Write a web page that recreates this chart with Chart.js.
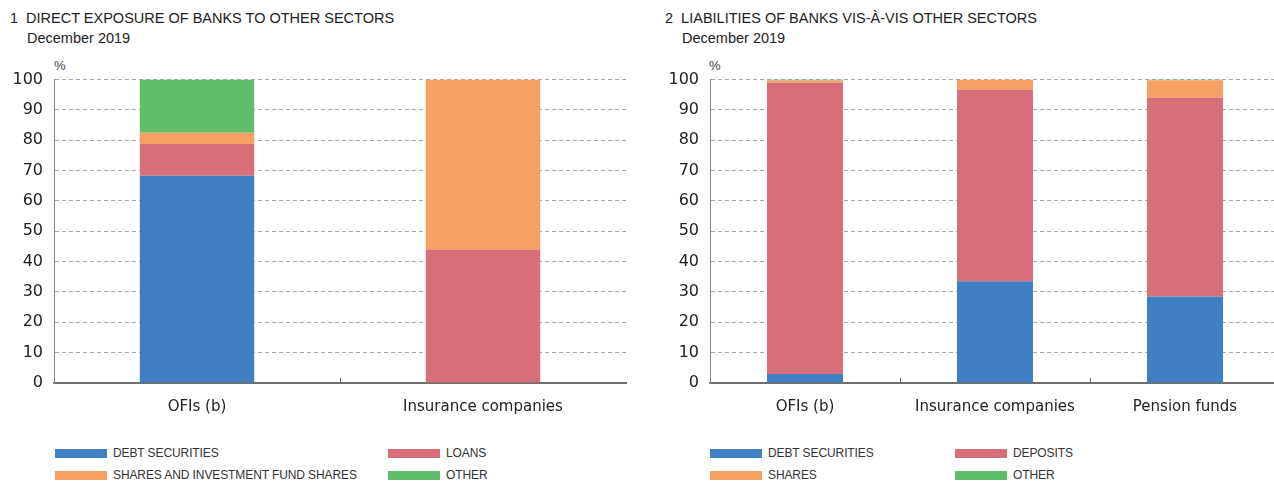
<!DOCTYPE html>
<html>
<head>
<meta charset="utf-8">
<script src="https://cdn.jsdelivr.net/npm/chart.js@4.4.1/dist/chart.umd.min.js"></script>
<style>
  html, body { margin: 0; padding: 0; width: 1274px; height: 483px; overflow: hidden; background: #fff; }
  body { position: relative; font-family: "Liberation Sans", Arial, sans-serif; color: #222; }
  .txt { position: absolute; white-space: nowrap; }
  .title { font-size: 14.5px; }
  .sub { font-size: 14.5px; }
  .pct { font-size: 13px; color: #444; }
  .box { position: absolute; }
  .leg { position: absolute; font-size: 12px; letter-spacing: -0.1px; color: #333; display: flex; align-items: center; white-space: nowrap; }
  .leg span.sw { display: inline-block; width: 52px; height: 9px; margin-right: 6px; }
</style>
</head>
<body>
<div class="txt title" style="left:10px;top:10px;">1&nbsp;&nbsp;DIRECT EXPOSURE OF BANKS TO OTHER SECTORS</div>
<div class="txt sub" style="left:27px;top:30px;">December 2019</div>
<div class="txt pct" style="left:54px;top:58px;">%</div>

<div class="txt title" style="left:665px;top:10px;">2&nbsp;&nbsp;LIABILITIES OF BANKS VIS-À-VIS OTHER SECTORS</div>
<div class="txt sub" style="left:682px;top:30px;">December 2019</div>
<div class="txt pct" style="left:709px;top:58px;">%</div>

<div class="box" style="left:0px;top:59px;width:640px;height:364px;"><canvas id="chartLeft"></canvas></div>
<div class="box" style="left:655px;top:59px;width:625px;height:364px;"><canvas id="chartRight"></canvas></div>

<div id="legendLeft"></div>
<div id="legendRight"></div>

<script>
// Dados
const leftCategories = ['OFIs (b)', 'Insurance companies'];
const leftDebt = [68.3, 0];
const leftLoans = [10.5, 44.0];
const leftShares = [3.7, 56.0];
const leftOther = [17.5, 0];

const rightCategories = ['OFIs (b)', 'Insurance companies', 'Pension funds'];
const rightDebt = [3.0, 33.5, 28.5];
const rightDeposits = [96.0, 63.2, 65.5];
const rightShares = [0.7, 3.3, 5.8];
const rightOther = [0.3, 0, 0.2];

const yTicks = [0, 10, 20, 30, 40, 50, 60, 70, 80, 90, 100];

const BLUE = '#4080c2';
const RED = '#d96e7b';
const ORANGE = '#f7a063';
const GREEN = '#60be6a';

const leftLabels = ['DEBT SECURITIES', 'LOANS', 'SHARES AND INVESTMENT FUND SHARES', 'OTHER'];
const rightLabels = ['DEBT SECURITIES', 'DEPOSITS', 'SHARES', 'OTHER'];
const colors = [BLUE, RED, ORANGE, GREEN];

function makeDatasets(labels, series) {
  return series.map((data, i) => ({
    label: labels[i],
    data: data,
    backgroundColor: colors[i],
    borderWidth: 0,
    categoryPercentage: 1.0,
    barPercentage: 0.4
  }));
}

// marquinhas do eixo x entre categorias, viradas para cima
const innerTicks = {
  id: 'innerTicks',
  afterDatasetsDraw(chart) {
    const x = chart.scales.x;
    const bottom = chart.chartArea.bottom;
    const ctx = chart.ctx;
    ctx.save();
    ctx.strokeStyle = '#6e6e6e';
    ctx.lineWidth = 1;
    for (let i = 1; i < chart.data.labels.length; i++) {
      const px = Math.round((x.getPixelForTick(i - 1) + x.getPixelForTick(i)) / 2) + 0.5;
      ctx.beginPath();
      ctx.moveTo(px, bottom);
      ctx.lineTo(px, bottom - 5);
      ctx.stroke();
    }
    ctx.restore();
  }
};

function makeChart(id, categories, datasets, axisWidth, padRight) {
  const ctx = document.getElementById(id).getContext('2d');
  return new Chart(ctx, {
    type: 'bar',
    data: { labels: categories, datasets: datasets },
    plugins: [innerTicks],
    options: {
      responsive: true,
      maintainAspectRatio: false,
      animation: false,
      layout: { padding: { top: 10, right: padRight, left: 0, bottom: 0 } },
      plugins: { legend: { display: false }, tooltip: { enabled: false } },
      scales: {
        x: {
          stacked: true,
          grid: { display: false },
          border: { color: '#6e6e6e', width: 2 },
          ticks: {
            color: '#222',
            padding: 7,
            font: { family: 'DejaVu Sans', size: 15 }
          }
        },
        y: {
          stacked: true,
          min: 0,
          max: 100,
          afterFit: s => { s.width = axisWidth; },
          afterBuildTicks: s => { s.ticks = yTicks.map(v => ({ value: v })); },
          grid: { color: '#a8a8a8', drawTicks: false, tickLength: 0 },
          border: { color: '#8a8a8a', width: 1, dash: [4, 3] },
          ticks: {
            color: '#222',
            padding: 11,
            font: { family: 'DejaVu Sans', size: 16 }
          }
        }
      }
    }
  });
}

function renderLegend(elId, labels, baseLeft, colLeft) {
  const el = document.getElementById(elId);
  const pos = [
    [baseLeft, 446], [colLeft, 446],
    [baseLeft, 468], [colLeft, 468]
  ];
  labels.forEach((lab, i) => {
    const d = document.createElement('div');
    d.className = 'leg';
    d.style.left = pos[i][0] + 'px';
    d.style.top = pos[i][1] + 'px';
    d.innerHTML = '<span class="sw" style="background:' + colors[i] + '"></span>' + lab;
    el.appendChild(d);
  });
}

makeChart('chartLeft', leftCategories,
  makeDatasets(leftLabels, [leftDebt, leftLoans, leftShares, leftOther]), 54, 14);
makeChart('chartRight', rightCategories,
  makeDatasets(rightLabels, [rightDebt, rightDeposits, rightShares, rightOther]), 55, 0);

renderLegend('legendLeft', leftLabels, 55, 388);
renderLegend('legendRight', rightLabels, 710, 955);
</script>
</body>
</html>
